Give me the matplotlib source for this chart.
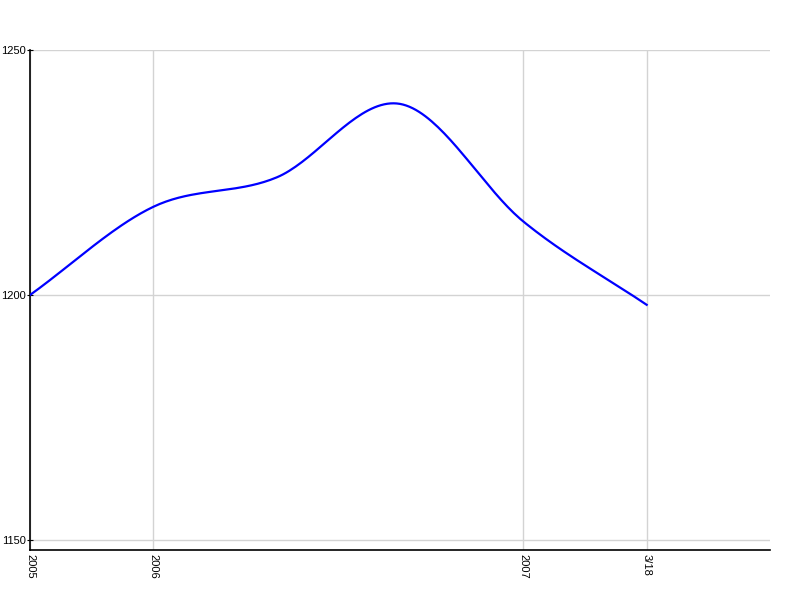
import numpy as np
import matplotlib
matplotlib.use("Agg")
import matplotlib.pyplot as plt

# category slots along x, only some carry a label
labels = ["2005", "2006", "", "", "2007", "3/18"]
values = [1200, 1218, 1224, 1239, 1215, 1198]
n_slots = 6


def catmull_rom(xs, ys, steps=40):
    xs = np.asarray(xs, float)
    ys = np.asarray(ys, float)
    px = np.concatenate([[2 * xs[0] - xs[1]], xs, [2 * xs[-1] - xs[-2]]])
    py = np.concatenate([[2 * ys[0] - ys[1]], ys, [2 * ys[-1] - ys[-2]]])
    outx, outy = [], []
    t = np.linspace(0, 1, steps)
    for i in range(1, len(px) - 2):
        for p, out in ((px, outx), (py, outy)):
            p0, p1, p2, p3 = p[i - 1], p[i], p[i + 1], p[i + 2]
            out.extend(0.5 * (2 * p1 + (-p0 + p2) * t
                              + (2 * p0 - 5 * p1 + 4 * p2 - p3) * t ** 2
                              + (-p0 + 3 * p1 - 3 * p2 + p3) * t ** 3))
    return np.array(outx), np.array(outy)


plt.rcParams['font.family'] = ['Liberation Sans', 'DejaVu Sans']

fig = plt.figure(figsize=(8, 6), dpi=100)
ax = fig.add_axes([30 / 800, 50 / 600, 740 / 800, 500 / 600])

x = np.arange(len(values))
sx, sy = catmull_rom(x, values)
ax.plot(sx, sy, color='#0000ff', lw=1.6, zorder=3)

ax.set_xlim(0, n_slots)
ax.set_ylim(1147.96, 1250)

tick_pos = [i for i, l in enumerate(labels) if l]
ax.set_xticks(tick_pos)
ax.set_xticklabels([labels[i] for i in tick_pos], rotation=270, fontsize=8)
ax.set_yticks([1150, 1200, 1250])
ax.tick_params(axis='x', length=0, pad=3)
ax.tick_params(axis='y', length=4, direction='inout', labelsize=8, pad=1)

ax.grid(True, color='#d3d3d3', lw=1)
ax.set_axisbelow(True)
ax.spines['top'].set_visible(False)
ax.spines['right'].set_visible(False)
ax.spines['left'].set_linewidth(1.2)
ax.spines['bottom'].set_linewidth(1.2)

fig.savefig('out.png', dpi=100)
